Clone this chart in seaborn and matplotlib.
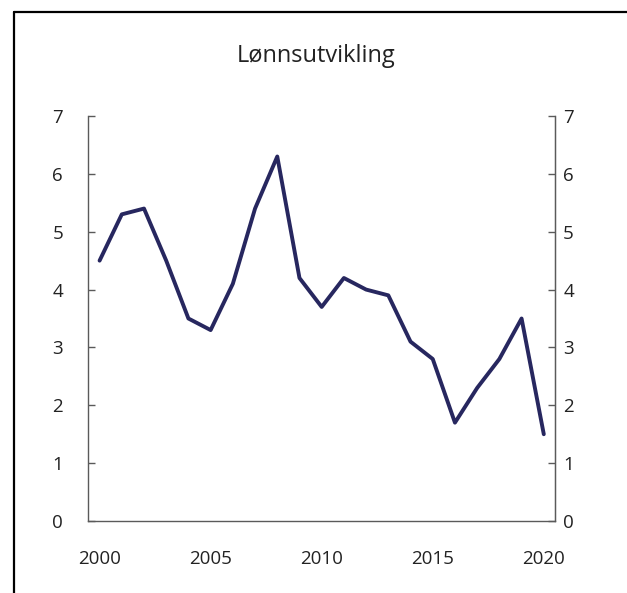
import pandas as pd
import matplotlib.pyplot as plt
import seaborn as sns
from matplotlib.lines import Line2D

# data
years = list(range(2000, 2021))
wage_growth = [4.5, 5.3, 5.4, 4.5, 3.5, 3.3, 4.1, 5.4, 6.3, 4.2, 3.7,
               4.2, 4.0, 3.9, 3.1, 2.8, 1.7, 2.3, 2.8, 3.5, 1.5]
y_ticks = [0, 1, 2, 3, 4, 5, 6, 7]
x_ticks = [2000, 2005, 2010, 2015, 2020]

df = pd.DataFrame({"year": years, "value": wage_growth})

sns.set_style("white")
plt.rcParams["font.family"] = ["Open Sans", "DejaVu Sans"]

fig = plt.figure(figsize=(6.27, 5.93), dpi=100)
ax = fig.add_axes([0.1404, 0.1214, 0.7446, 0.683])

sns.lineplot(data=df, x="year", y="value", ax=ax, color="#27275f", linewidth=2.8)

ax.set_xlim(1999.48, 2020.5)
ax.set_ylim(0, 7)
ax.set_xticks(x_ticks)
ax.set_yticks(y_ticks)
ax.set_xlabel("")
ax.set_ylabel("")

ax.spines["top"].set_visible(False)
for side in ["left", "right", "bottom"]:
    ax.spines[side].set_color("#5a5a5a")
    ax.spines[side].set_linewidth(1.0)

ax.tick_params(axis="x", length=0, pad=21, labelsize=13.5, labelcolor="#222222")
ax.tick_params(axis="y", direction="in", length=5, width=1, color="#5a5a5a",
               pad=18, labelsize=13.5, labelcolor="#222222")

# right hand axis with the same scale
ax2 = ax.twinx()
ax2.set_ylim(ax.get_ylim())
ax2.set_yticks(y_ticks)
for side in ["top", "left", "bottom"]:
    ax2.spines[side].set_visible(False)
ax2.spines["right"].set_color("#5a5a5a")
ax2.tick_params(axis="y", direction="in", length=5, width=1, color="#5a5a5a",
                pad=6, labelsize=13.5, labelcolor="#222222")

fig.text(0.504, 0.905, "Lønnsutvikling", ha="center", va="center",
         fontsize=17, color="#222222")

# frame lines (top and left of the border)
fig.add_artist(Line2D([0.0223, 1.0], [0.979, 0.979], transform=fig.transFigure,
                      color="black", linewidth=1.6))
fig.add_artist(Line2D([0.0223, 0.0223], [0.0, 0.979], transform=fig.transFigure,
                      color="black", linewidth=1.6))

fig.savefig("out.png", dpi=100)
